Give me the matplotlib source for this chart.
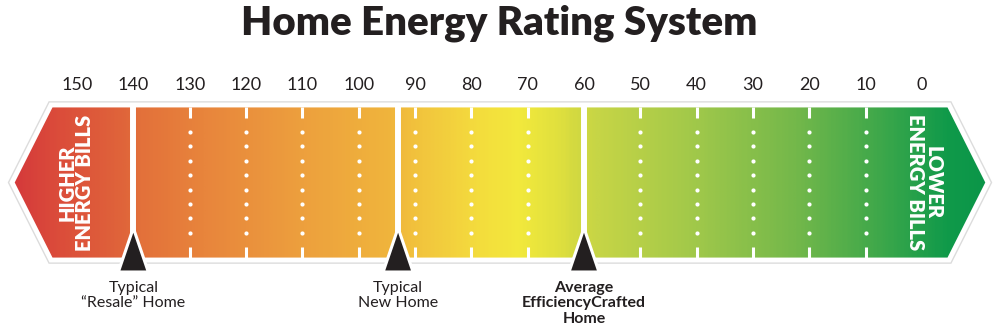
import numpy as np
import matplotlib.pyplot as plt
from matplotlib.patches import Polygon
from matplotlib.colors import LinearSegmentedColormap

# HERS scale values and marked homes
scores = [150, 140, 130, 120, 110, 100, 90, 80, 70, 60, 50, 40, 30, 20, 10, 0]
homes = [140, 93, 60]
home_labels = ['Typical\n\u201cResale\u201d Home', 'Typical\nNew Home',
               'Average\nEfficiencyCrafted\nHome']
home_bold = [False, False, True]
title = 'Home Energy Rating System'
left_text = 'HIGHER\nENERGY BILLS'
right_text = 'LOWER\nENERGY BILLS'

# gradient colours from the red tip to the green tip
grad_pos = [0.0, 0.05, 0.12, 0.135, 0.2, 0.3, 0.39, 0.42, 0.48, 0.52, 0.56,
            0.575, 0.6, 0.7, 0.8, 0.885, 0.955, 1.0]
grad_cols = ['#d4373b', '#db4c3a', '#e0663a', '#e3713a', '#e8853c', '#eda03e',
             '#f0b53c', '#f2c53d', '#f4dd3d', '#f2e93c', '#e0e03e', '#d4da40',
             '#c6d546', '#a0c84a', '#74b84a', '#3fa84a', '#109a4a', '#0a9548']
cmap = LinearSegmentedColormap.from_list('hers', list(zip(grad_pos, grad_cols)))

ink = '#231f20'
text_fam = ['Lato', 'DejaVu Sans']

px = 845 / 150.0          # pixels per score unit
x0 = 150 + 77 / px        # figure left edge in score units
x1 = 150 - 923 / px       # figure right edge

fig = plt.figure(figsize=(10, 3.36), dpi=100)
ax = fig.add_axes([0, 0, 1, 1])

top, bot, mid = 105, 260, 182.5
tip_l = 150 + (77 - 12) / px
cor_l = 150 + (77 - 51) / px
cor_r = 150 - (949 - 77) / px
tip_r = 150 - (988 - 77) / px
verts = [(tip_l, mid), (cor_l, top), (cor_r, top), (tip_r, mid), (cor_r, bot), (cor_l, bot)]

shadow = Polygon(verts, closed=True, fc='none', ec='#dcdcdc', lw=5.5, joinstyle='miter', zorder=1)
ax.add_patch(shadow)
body = Polygon(verts, closed=True, fc='none', ec='white', lw=3.5, joinstyle='miter', zorder=4)
ax.add_patch(body)
clip = Polygon(verts, closed=True, fc='none', ec='none')
ax.add_patch(clip)
grad = np.linspace(0, 1, 600).reshape(1, -1)
im = ax.imshow(grad, cmap=cmap, extent=[tip_l + 1, tip_r - 1, bot + 2, top - 2], aspect='auto',
               interpolation='bilinear', zorder=2)
im.set_clip_path(clip)

ax.set_xlim(x0, x1)
ax.set_ylim(336, 0)
ax.axis('off')

# dotted guides at the unmarked scores
for s in scores:
    if s in homes or s in (scores[0], scores[-1]):
        continue
    ax.plot([s, s], [top + 2, 118], color='white', lw=2.2, solid_capstyle='butt', zorder=3)
    ax.plot([s, s], [247, bot - 2], color='white', lw=2.2, solid_capstyle='butt', zorder=3)
    dots = np.arange(132, 234, 14.4)
    ax.scatter([s] * len(dots), dots, s=9, color='white', lw=0, zorder=3)

# solid lines and triangle markers at the homes
for h, lab, b in zip(homes, home_labels, home_bold):
    ax.plot([h, h], [top, bot], color='white', lw=4.3, solid_capstyle='butt', zorder=3)
    tri = Polygon([(h, 228), (h - 15 / px, 272), (h + 15 / px, 272)], closed=True,
                  fc=ink, ec='white', lw=2.2, joinstyle='miter', zorder=5)
    ax.add_patch(tri)
    ax.text(h, 281, lab, ha='center', va='top', fontsize=11.5, color=ink,
            family=text_fam, fontweight='bold' if b else 'normal', linespacing=1.12,
            zorder=6)

# scale numbers
for s in scores:
    ax.text(s, 85, str(s), ha='center', va='center', fontsize=13, color=ink,
            family=text_fam)

ax.text(150 + 1 / px, mid, left_text, rotation=90, ha='center', va='center',
        multialignment='center', fontsize=14.5, fontweight='heavy', color='white',
        family=text_fam, linespacing=0.92, zorder=6)
ax.text(-0.4, mid, right_text, rotation=-90, ha='center', va='center',
        multialignment='center', fontsize=14.5, fontweight='heavy', color='white',
        family=text_fam, linespacing=0.92, zorder=6)

ax.text(75, 23, title, ha='center', va='center', fontsize=29, fontweight='heavy',
        color=ink, family=text_fam)

fig.savefig('out.png', dpi=100)
